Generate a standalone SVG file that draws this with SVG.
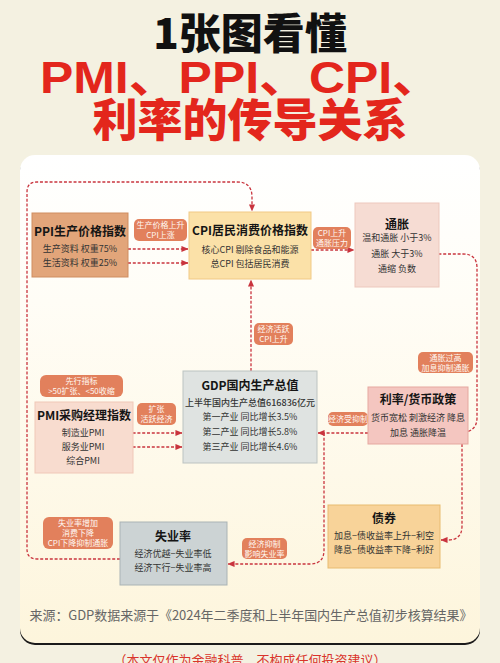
<svg xmlns="http://www.w3.org/2000/svg" width="500" height="663" viewBox="0 0 500 663">
<defs>
<linearGradient id="pg" x1="0" y1="0" x2="0" y2="1">
<stop offset="0" stop-color="#ffffff"/>
<stop offset="0.3" stop-color="#fffdf6"/>
<stop offset="1" stop-color="#fdf5dc"/>
</linearGradient>
<marker id="ah" viewBox="0 0 8 8" refX="7.5" refY="4" markerWidth="7" markerHeight="7" orient="auto" markerUnits="userSpaceOnUse">
<path d="M0,0.5 L8,4 L0,7.5 z" fill="#c9343e"/>
</marker>
<style>
text{font-family:"Noto Sans CJK SC","Noto Sans",sans-serif;text-anchor:middle}
.t{font-size:12px;font-weight:700;fill:#151515}
.b{font-size:9px;fill:#333}
.p{font-size:8px;fill:#fff8f2}
.pill{fill:#e2805c}
.c{fill:none;stroke:#c9343e;stroke-width:1.3;stroke-dasharray:3 1.8}
.a{marker-end:url(#ah)}
</style>
</defs>
<rect width="500" height="663" fill="#f4f1e1"/>
<rect x="20" y="157" width="460" height="488" rx="15" fill="#1a1a1a"/>
<rect x="20" y="155" width="460" height="488" rx="15" fill="url(#pg)"/>

<g id="title">
<text x="250" y="49" style="font-size:42px;font-weight:900;fill:#111">1张图看懂</text>
<text x="40" y="93" textLength="402" lengthAdjust="spacingAndGlyphs" style="font-family:'Liberation Sans','Noto Sans CJK SC',sans-serif;font-size:45px;font-weight:700;fill:#e3261c;text-anchor:start">PMI、PPI、CPI、</text>
<text x="250" y="137" style="font-size:45px;font-weight:900;fill:#e3261c">利率的传导关系</text>
</g>

<g id="connectors">
<path class="c a" d="M120,559 H37 Q27,559 27,549 V192 Q27,182 37,182 H237 Q252,182 252,197 V211"/>
<path class="c a" d="M128,249 H188"/>
<path class="c a" d="M128,263 H188"/>
<path class="c a" d="M311,250 H354"/>
<path class="c a" d="M424,254 H463 Q477,254 477,268 V418 Q477,431 462,433 L453,433"/>
<path class="c a" d="M368,433 H318"/>
<path class="c a" d="M324,433 V550 Q324,564 310,564 H228"/>
<path class="c a" d="M462,444 V526 Q462,540 448,540 H441"/>
<path class="c a" d="M251,371 V280"/>
<path class="c a" d="M123,433 H182"/>
<path class="c a" d="M123,447 H182"/>
</g>

<g id="ppi">
<rect x="32" y="213" width="96" height="64" fill="#e2a57a" stroke="#cf8d60" stroke-width="1"/>
<text class="t" x="80" y="236">PPI生产价格指数</text>
<text class="b" x="80" y="252">生产资料 权重75%</text>
<text class="b" x="80" y="266">生活资料 权重25%</text>
</g>

<g id="cpi">
<rect x="189" y="212" width="122" height="67" fill="#fbe1a8" stroke="#f1c985" stroke-width="1"/>
<text class="t" x="250" y="235">CPI居民消费价格指数</text>
<text class="b" x="250" y="253">核心CPI 剔除食品和能源</text>
<text class="b" x="250" y="267">总CPI 包括居民消费</text>
</g>

<g id="inflation">
<rect x="355" y="203" width="84" height="84" fill="#f6dcd3" stroke="#edc8bd" stroke-width="1"/>
<text class="t" x="397" y="229">通胀</text>
<text class="b" x="397" y="241">温和通胀 小于3%</text>
<text class="b" x="397" y="257">通胀 大于3%</text>
<text class="b" x="397" y="272">通缩 负数</text>
</g>

<g id="gdp">
<rect x="183" y="371" width="134" height="92" fill="#dfe3e1" stroke="#bcc3c1" stroke-width="1"/>
<text class="t" x="250" y="390">GDP国内生产总值</text>
<text class="b" x="250" y="406" style="font-weight:500">上半年国内生产总值616836亿元</text>
<text class="b" x="250" y="420">第一产业 同比增长3.5%</text>
<text class="b" x="250" y="435">第二产业 同比增长5.8%</text>
<text class="b" x="250" y="450">第三产业 同比增长4.6%</text>
</g>

<g id="rate">
<rect x="368" y="387" width="100" height="57" fill="#f4c6c0" stroke="#e5a8a0" stroke-width="1"/>
<text class="t" x="418" y="404">利率/货币政策</text>
<text class="b" x="418" y="421">货币宽松 刺激经济 降息</text>
<text class="b" x="418" y="436">加息 通胀降温</text>
</g>

<g id="pmi">
<rect x="35" y="402" width="98" height="71" fill="#f8dccf" stroke="#f0c8b8" stroke-width="1"/>
<text class="t" x="84" y="420">PMI采购经理指数</text>
<text class="b" x="83" y="436">制造业PMI</text>
<text class="b" x="83" y="450">服务业PMI</text>
<text class="b" x="83" y="464">综合PMI</text>
</g>

<g id="bond">
<rect x="328" y="505" width="112" height="63" fill="#f8d399" stroke="#e8bb70" stroke-width="1"/>
<text class="t" x="384" y="523">债券</text>
<text class="b" x="384" y="539">加息−债收益率上升−利空</text>
<text class="b" x="384" y="553">降息−债收益率下降−利好</text>
</g>

<g id="unemployment">
<rect x="120" y="522" width="107" height="63" fill="#ccd3d4" stroke="#aab3b5" stroke-width="1"/>
<text class="t" x="173" y="541">失业率</text>
<text class="b" x="173" y="557">经济优越−失业率低</text>
<text class="b" x="173" y="571">经济下行−失业率高</text>
</g>

<g id="labels">
<rect class="pill" x="134" y="219" width="53" height="22" rx="5"/>
<text class="p" x="160.5" y="228">生产价格上升</text>
<text class="p" x="160.5" y="238">CPI上涨</text>
<rect class="pill" x="313" y="227" width="38" height="22" rx="5"/>
<text class="p" x="332" y="236">CPI上升</text>
<text class="p" x="332" y="246">通胀压力</text>
<rect class="pill" x="254" y="323" width="39" height="22" rx="5"/>
<text class="p" x="273.5" y="332">经济活跃</text>
<text class="p" x="273.5" y="342">CPI上升</text>
<rect class="pill" x="418" y="352" width="55" height="21" rx="5"/>
<text class="p" x="445.5" y="361">通胀过高</text>
<text class="p" x="445.5" y="371">加息抑制通胀</text>
<rect class="pill" x="328" y="412" width="40" height="14" rx="5"/>
<text class="p" x="348" y="422">经济受抑制</text>
<rect class="pill" x="40" y="375" width="83" height="22" rx="6"/>
<text class="p" x="81.5" y="384">先行指标</text>
<text class="p" x="81.5" y="394">&gt;50扩张、&lt;50收缩</text>
<rect class="pill" x="137" y="403" width="39" height="22" rx="5"/>
<text class="p" x="156.5" y="412">扩张</text>
<text class="p" x="156.5" y="422">活跃经济</text>
<rect class="pill" x="43" y="517" width="70" height="32" rx="6"/>
<text class="p" x="78" y="526">失业率增加</text>
<text class="p" x="78" y="536">消费下降</text>
<text class="p" x="78" y="546">CPI下降抑制通胀</text>
<rect class="pill" x="242" y="538" width="45" height="21" rx="5"/>
<text class="p" x="264.5" y="547">经济抑制</text>
<text class="p" x="264.5" y="557">影响失业率</text>
</g>

<g id="footer">
<text x="251" y="620" textLength="443" lengthAdjust="spacing" style="font-size:13px;fill:#666">来源：GDP数据来源于《2024年二季度和上半年国内生产总值初步核算结果》</text>
<text x="250" y="665" style="font-size:13px;fill:#d9342b">（本文仅作为金融科普，不构成任何投资建议）</text>
</g>
</svg>
